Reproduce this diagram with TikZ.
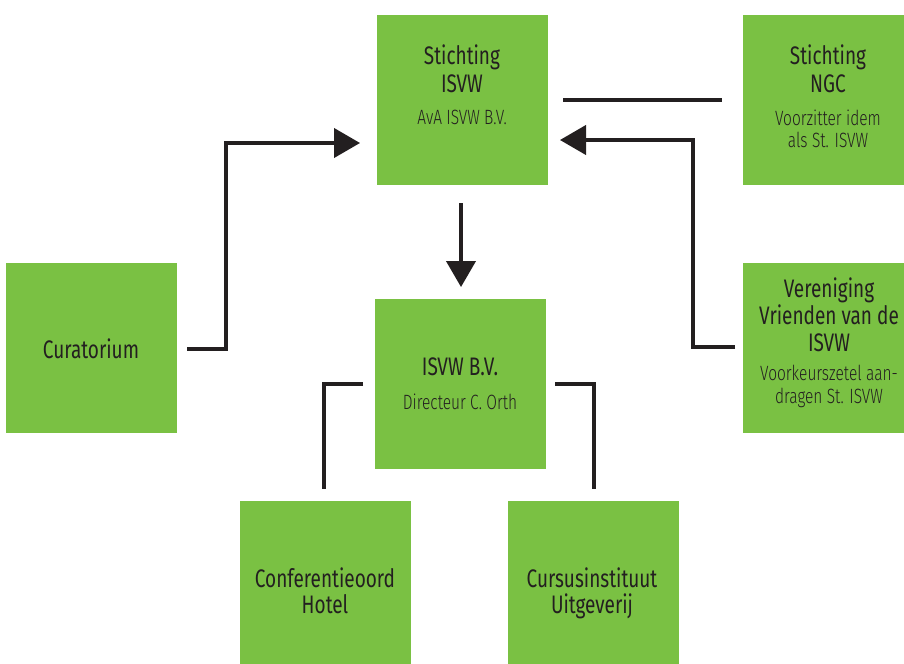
\documentclass[tikz,border=0pt]{standalone}
\usepackage{fontspec}
\setmainfont{Fira Sans}[FakeStretch=0.75]
\newfontfamily\titlefont{Fira Sans}[FakeStretch=0.75]
\newfontfamily\subfont{Fira Sans Light}[FakeStretch=0.75]
\usetikzlibrary{arrows.meta}
\definecolor{boxgreen}{HTML}{7AC143}
\definecolor{ink}{HTML}{231F20}
\begin{document}
\begin{tikzpicture}[x=0.75pt,y=-0.75pt,
  box/.style={fill=boxgreen, draw=none, inner sep=0pt, minimum width=128.25pt, minimum height=127.5pt},
  ttl/.style={anchor=base, inner sep=0pt, text=ink, font=\titlefont\fontsize{19}{19}\selectfont},
  sub/.style={anchor=base, inner sep=0pt, text=ink, font=\subfont\fontsize{15.5}{15.5}\selectfont},
  conn/.style={draw=ink, line width=2.3pt},
  arr/.style={conn, -{Triangle[length=19.5pt,width=22pt]}}]
\useasboundingbox (0,0) rectangle (904,664);
\clip (0,0) rectangle (904,664);
% boxes
\node[box] (isvw) at (462,100) {};
\node[box] (ngc) at (828,100) {};
\node[box] (cur) at (91.5,347.5) {};
\node[box] (bv) at (460.5,383.5) {};
\node[box] (ver) at (828,347.5) {};
\node[box] (conf) at (325.5,586) {};
\node[box] (curs) at (593.5,586) {};
% texts
\node[ttl] (isvw1) at (462,64) {Stichting};
\node[ttl] (isvw2) at (462,92) {ISVW};
\node[sub] (isvw3) at (462,124) {AvA ISVW B.V.};
\node[ttl] (ngc1) at (828,64) {Stichting};
\node[ttl] (ngc2) at (828,92) {NGC};
\node[sub] (ngc3) at (828,125) {Voorzitter idem};
\node[sub] (ngc4) at (828,147) {als St. ISVW};
\node[ttl] (cur1) at (91,358) {Curatorium};
\node[ttl] (bv1) at (460,375) {ISVW B.V.};
\node[sub] (bv2) at (460,409) {Directeur C. Orth};
\node[ttl] (ver1) at (829,297) {Vereniging};
\node[ttl] (ver2) at (829,324) {Vrienden van de};
\node[ttl] (ver3) at (829,351) {ISVW};
\node[sub] (ver4) at (829,380) {Voorkeurszetel aan-};
\node[sub] (ver5) at (829,403) {dragen St. ISVW};
\node[ttl] (conf1) at (325,587) {Conferentieoord};
\node[ttl] (conf2) at (325,613) {Hotel};
\node[ttl] (curs1) at (592,587) {Cursusinstituut};
\node[ttl] (curs2) at (592,613) {Uitgeverij};
% connector end points
\coordinate (c1s) at (187,349);
\coordinate (c1e) at (360,143);
\coordinate (c2s) at (461,203);
\coordinate (c2e) at (461,287);
\coordinate (c3s) at (563,100);
\coordinate (c3e) at (722,100);
\coordinate (c4s) at (735,347);
\coordinate (c4e) at (560,140);
\coordinate (c5s) at (363,384);
\coordinate (c5e) at (324,489);
\coordinate (c6s) at (555,384);
\coordinate (c6e) at (594,489);
% connectors
\draw[arr] (c1s) -- (226,349) |- (c1e);
\draw[arr] (c2s) -- (c2e);
\draw[conn] (c3s) -- (c3e);
\draw[arr] (c4s) -- (693,347) |- (c4e);
\draw[conn] (c5s) -| (c5e);
\draw[conn] (c6s) -| (c6e);
\end{tikzpicture}
\end{document}
